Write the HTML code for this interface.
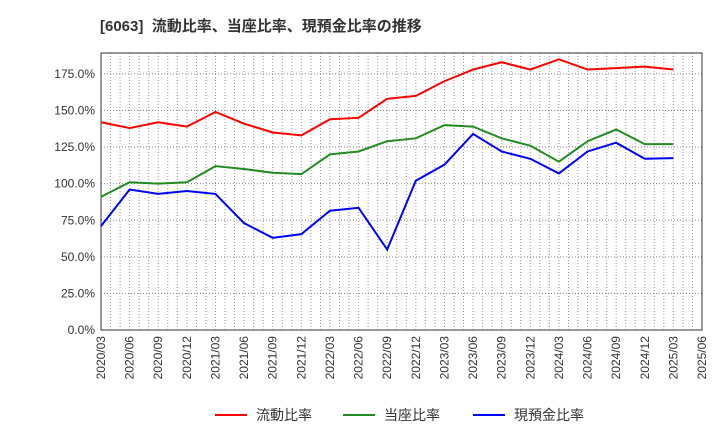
<!DOCTYPE html>
<html><head><meta charset="utf-8"><style>
body{margin:0;background:#fff;font-family:"Liberation Sans","Noto Sans CJK JP",sans-serif}
</style></head><body>
<svg id="c" width="720" height="440" xmlns="http://www.w3.org/2000/svg" font-family="Liberation Sans, Noto Sans CJK JP, sans-serif">
<text x="100" y="31" font-size="15" font-weight="bold" fill="#333">[6063]&#160; 流動比率、当座比率、現預金比率の推移</text>
<g id="grid"></g><g id="axes"></g><g id="series"></g><g id="legend"></g>
</svg>
<script>
const categories=["2020/03","2020/06","2020/09","2020/12","2021/03","2021/06","2021/09","2021/12","2022/03","2022/06","2022/09","2022/12","2023/03","2023/06","2023/09","2023/12","2024/03","2024/06","2024/09","2024/12","2025/03","2025/06"];
const currentRatio=[142,138,142,139,149,141,135,133,144,145,158,160,170,178,183,178,185,178,179,180,178];
const quickRatio=[91,101,100,101,112,110,107.5,106.5,120,122,129,131,140,139,131,126,115,129,137,127,127];
const cashRatio=[71,96,93,95,93,73,63,65.5,81.5,83.5,55,102,113,134,122,117,107,122,128,117,117.5];
const yTicks=[0,25,50,75,100,125,150,175];
const seriesNames=["流動比率","当座比率","現預金比率"];
const seriesColors=["#f00","#228b22","#00f"];
const NS="http://www.w3.org/2000/svg";
const L=101,R=702,T=53,B=330,YMAX=189.3;
const xs=i=>L+(R-L)*i/(categories.length-1);
const ys=v=>B-(B-T)*v/YMAX;
function mk(tag,attrs,parent){const e=document.createElementNS(NS,tag);for(const k in attrs)e.setAttribute(k,attrs[k]);document.getElementById(parent).appendChild(e);return e;}
for(let m=1;m<(categories.length-1)*3;m++){const x=L+(R-L)*m/((categories.length-1)*3);
const g=mk('line',{x1:x,x2:x,y1:T,y2:B,stroke:'#999','stroke-dasharray':'1,2','stroke-width':1},'grid');

}
yTicks.forEach(v=>{const y=ys(v);
const g=mk('line',{x1:L,x2:R,y1:y,y2:y,stroke:'#888','stroke-dasharray':'1,2','stroke-width':1},'grid');


const t=mk('text',{x:L-6,y:y+4,'text-anchor':'end','font-size':12,fill:'#333'},'axes');
t.textContent=v.toFixed(1)+'%';

});
categories.forEach((c,i)=>{const x=xs(i);
const t=mk('text',{x:x+4,y:B+6,'text-anchor':'end','font-size':12,fill:'#333',transform:`rotate(-90 ${x+4} ${B+6})`},'axes');
t.textContent=c;

});
const fr=mk('rect',{x:L,y:T,width:R-L,height:B-T,fill:'none',stroke:'#333','stroke-width':1},'axes');


[currentRatio,quickRatio,cashRatio].forEach((d,s)=>{
const p=mk('polyline',{points:d.map((v,i)=>xs(i)+','+ys(v)).join(' '),fill:'none',stroke:seriesColors[s],'stroke-width':2},'series');


const lx=[215,343,473][s];
const ll=mk('line',{x1:lx,x2:lx+32,y1:415,y2:415,stroke:seriesColors[s],'stroke-width':2},'legend');


const lt=mk('text',{x:lx+41,y:420,'font-size':14,fill:'#333'},'legend');
lt.textContent=seriesNames[s];


});
</script>
</body></html>
